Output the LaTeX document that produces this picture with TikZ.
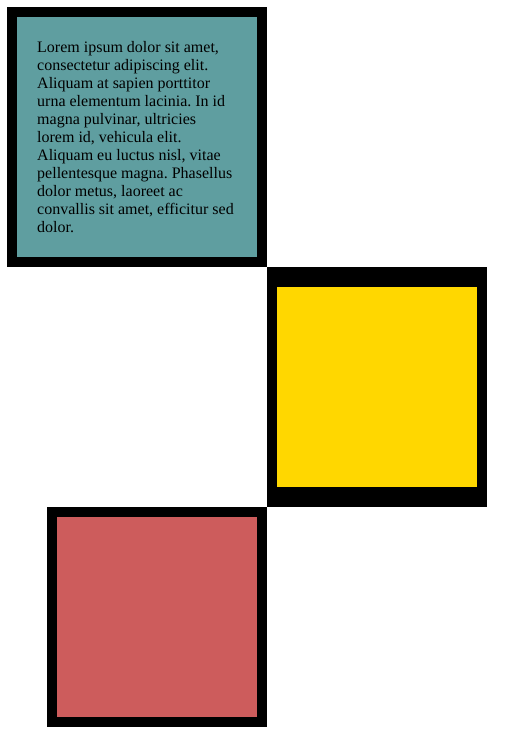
\documentclass[tikz,border=0pt]{standalone}
\usepackage{fontspec}
\setmainfont{Liberation Serif}
\frenchspacing
\definecolor{cadet}{HTML}{5F9EA0}
\definecolor{gold}{HTML}{FFD700}
\definecolor{indian}{HTML}{CD5C5C}
\tikzset{lorem/.style = {anchor=north west, inner sep=0pt, align=left,
                         font=\fontsize{16}{18}\selectfont}}

\begin{document}
\begin{tikzpicture}[x = 1pt, y = -1pt]
    \useasboundingbox (0,0) rectangle (505,743);
    \fill (7,7) rectangle (267,267);
    \fill[cadet] (17,17) rectangle (257,257);
    \node[lorem] (text) at (37,41) {Lorem ipsum dolor sit amet,\\ consectetur adipiscing elit.\\ Aliquam at sapien porttitor\\ urna elementum lacinia. In id\\ magna pulvinar, ultricies\\ lorem id, vehicula elit.\\ Aliquam eu luctus nisl, vitae\\ pellentesque magna. Phasellus\\ dolor metus, laoreet ac\\ convallis sit amet, efficitur sed\\ dolor.};
    \fill (267,267) rectangle (487,507);
    \fill[gold] (277,287) rectangle (477,487);
    \fill (47,507) rectangle (267,727);
    \fill[indian] (57,517) rectangle (257,717);
  \end{tikzpicture}
\end{document}
